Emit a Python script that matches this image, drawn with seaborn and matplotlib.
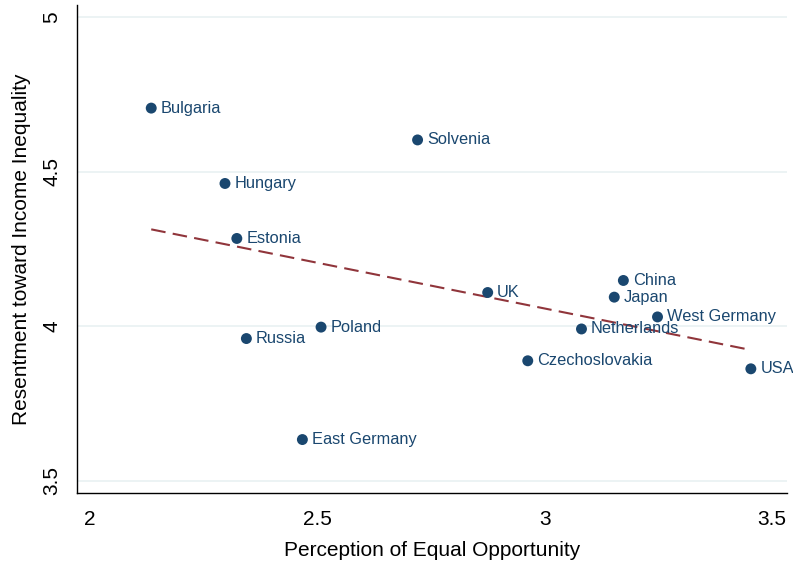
import matplotlib
matplotlib.use("Agg")
import matplotlib.pyplot as plt
import seaborn as sns
import pandas as pd

countries = ["Bulgaria", "Solvenia", "Hungary", "Estonia", "UK", "China", "Japan",
             "West Germany", "Netherlands", "Poland", "Russia", "Czechoslovakia",
             "USA", "East Germany"]
opportunity = [2.136, 2.721, 2.298, 2.324, 2.875, 3.173, 3.153,
               3.248, 3.081, 2.509, 2.345, 2.963, 3.453, 2.468]
resentment = [4.706, 4.603, 4.462, 4.284, 4.109, 4.148, 4.094,
              4.030, 3.991, 3.997, 3.960, 3.888, 3.862, 3.633]
xticks = [2, 2.5, 3, 3.5]
yticks = [3.5, 4, 4.5, 5]
xtick_labels = ["2", "2.5", "3", "3.5"]
ytick_labels = ["3.5", "4", "4.5", "5"]

df = pd.DataFrame({"country": countries, "opp": opportunity, "res": resentment})

sns.set_style("white")
plt.rcParams["font.family"] = ["Liberation Sans", "DejaVu Sans"]

NAVY = "#1a476f"
MAROON = "#90353b"

fig = plt.figure(figsize=(7.93, 5.61), dpi=100)
ax = fig.add_axes([76.7 / 793, 1 - 493.3 / 561, (787 - 76.7) / 793, (493.3 - 5) / 561])

for yv in yticks:
    ax.axhline(yv, color="#eaf2f3", lw=1.3, zorder=0)

sns.regplot(data=df, x="opp", y="res", ax=ax, scatter=False, ci=None, truncate=True,
            line_kws=dict(color=MAROON, lw=1.5, dashes=(7, 3.5), zorder=2))
sns.scatterplot(data=df, x="opp", y="res", ax=ax, color=NAVY, s=62, edgecolor="none",
                zorder=3, legend=False)

for c, xv, yv in zip(countries, opportunity, resentment):
    ax.annotate(c, (xv, yv), xytext=(6.8, 0), textcoords="offset points",
                ha="left", va="center", fontsize=11.8, color=NAVY, zorder=4,
                annotation_clip=False, clip_on=False)

ax.set_xlim(1.9723, 3.5324)
ax.set_ylim(3.459, 5.0398)
ax.set_xticks(xticks)
ax.set_xticklabels(xtick_labels)
ax.set_yticks(yticks)
ax.set_yticklabels(ytick_labels, rotation=90, va="center")
ax.tick_params(axis="both", direction="out", length=6, width=1, color="#333333",
               labelsize=15, pad=6, labelcolor="black")
ax.tick_params(axis="y", pad=5)

for s in ["top", "right"]:
    ax.spines[s].set_visible(False)
for s in ["left", "bottom"]:
    ax.spines[s].set_color("black")
    ax.spines[s].set_linewidth(1.0)

ax.set_xlabel("Perception of Equal Opportunity", fontsize=15, labelpad=9, color="black")
ax.set_ylabel("Resentment toward Income Inequality", fontsize=15, labelpad=8, color="black")
ax.grid(False)

fig.savefig("out.png", dpi=100)
